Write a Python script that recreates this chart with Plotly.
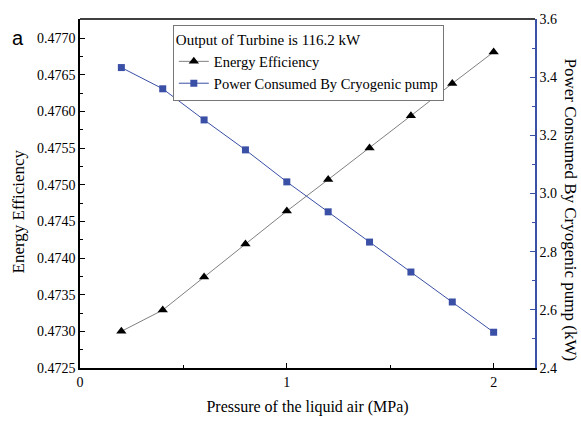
import plotly.graph_objects as go

pressure = [0.2, 0.4, 0.6, 0.8, 1.0, 1.2, 1.4, 1.6, 1.8, 2.0]
energy_eff = [0.47300, 0.47329, 0.47374, 0.47419, 0.47464, 0.47507, 0.47550, 0.47594, 0.47638, 0.47681]
pump_power = [3.433, 3.360, 3.253, 3.150, 3.040, 2.937, 2.833, 2.730, 2.627, 2.523]

BLUE = "#3a4fa6"
FONT = "Liberation Serif"

fig = go.Figure()
fig.add_trace(go.Scatter(
    x=pressure, y=energy_eff, name="Energy Efficiency", mode="lines+markers",
    line=dict(color="#808080", width=1),
    marker=dict(symbol="triangle-up", size=9, color="black"),
    yaxis="y"))
fig.add_trace(go.Scatter(
    x=pressure, y=pump_power, name="Power Consumed By Cryogenic pump", mode="lines+markers",
    line=dict(color=BLUE, width=1),
    marker=dict(symbol="square", size=7, color=BLUE),
    yaxis="y2"))

fig.update_layout(
    width=581, height=425,
    margin=dict(l=80, r=46, t=12, b=53),
    paper_bgcolor="white", plot_bgcolor="white",
    font=dict(family=FONT, size=14, color="black"),
    showlegend=True,
    legend=dict(
        title=dict(text="Output of Turbine is 116.2 kW", font=dict(family=FONT, size=15)),
        x=0.204, y=0.983, xanchor="left", yanchor="top",
        bgcolor="white", bordercolor="#777777", borderwidth=1,
        font=dict(family=FONT, size=14.5), tracegroupgap=0,
        itemwidth=30),
    xaxis=dict(
        range=[0, 2.2], tickvals=[0, 1, 2], ticktext=["0", "1", "2"],
        ticks="inside", ticklen=5, tickcolor="black",
        minor=dict(tickvals=[0.5, 1.5], ticks="inside", ticklen=3, tickcolor="black"),
        showline=True, linecolor="black", linewidth=1.5, mirror=False,
        showgrid=False, zeroline=False,
        title=dict(text="Pressure of the liquid air (MPa)", font=dict(family=FONT, size=16), standoff=12),
        tickfont=dict(family=FONT, size=14)),
    yaxis=dict(
        range=[0.4725, 0.47726], dtick=0.0005, tick0=0.4725, tickformat=".4f",
        ticks="inside", ticklen=5, tickcolor="black",
        minor=dict(dtick=0.00025, ticks="inside", ticklen=3, tickcolor="black"),
        showline=True, linecolor="black", linewidth=1.5,
        showgrid=False, zeroline=False,
        tickfont=dict(family=FONT, size=14)),
    yaxis2=dict(
        overlaying="y", side="right", anchor="x",
        range=[2.4, 3.6], dtick=0.2, tick0=2.4, tickformat=".1f",
        ticks="inside", ticklen=5, tickcolor=BLUE,
        minor=dict(dtick=0.1, ticks="inside", ticklen=3, tickcolor=BLUE),
        showline=True, linecolor=BLUE, linewidth=1.5,
        showgrid=False, zeroline=False,
        tickfont=dict(family=FONT, size=14)),
    shapes=[dict(type="line", xref="paper", yref="paper", x0=0, x1=1, y0=1, y1=1,
                 line=dict(color="black", width=1.5))],
    annotations=[
        dict(text="Energy Efficiency", textangle=-90,
             xref="paper", yref="paper", x=0.0, y=0.5, xshift=-62, yshift=-18,
             xanchor="center", yanchor="middle",
             showarrow=False, font=dict(family=FONT, size=17)),
        dict(text="Power Consumed By Cryogenic pump (kW)", textangle=90,
             xref="paper", yref="paper", x=1.0, y=0.5, xshift=35, yshift=-16,
             xanchor="center", yanchor="middle",
             showarrow=False, font=dict(family=FONT, size=17)),
        dict(text="a", xref="paper", yref="paper", x=0, y=1, xshift=-70, yshift=-6,
             xanchor="left", yanchor="top", showarrow=False,
             font=dict(family="Liberation Sans", size=20)),
    ],
)

fig.write_html("out.html")
